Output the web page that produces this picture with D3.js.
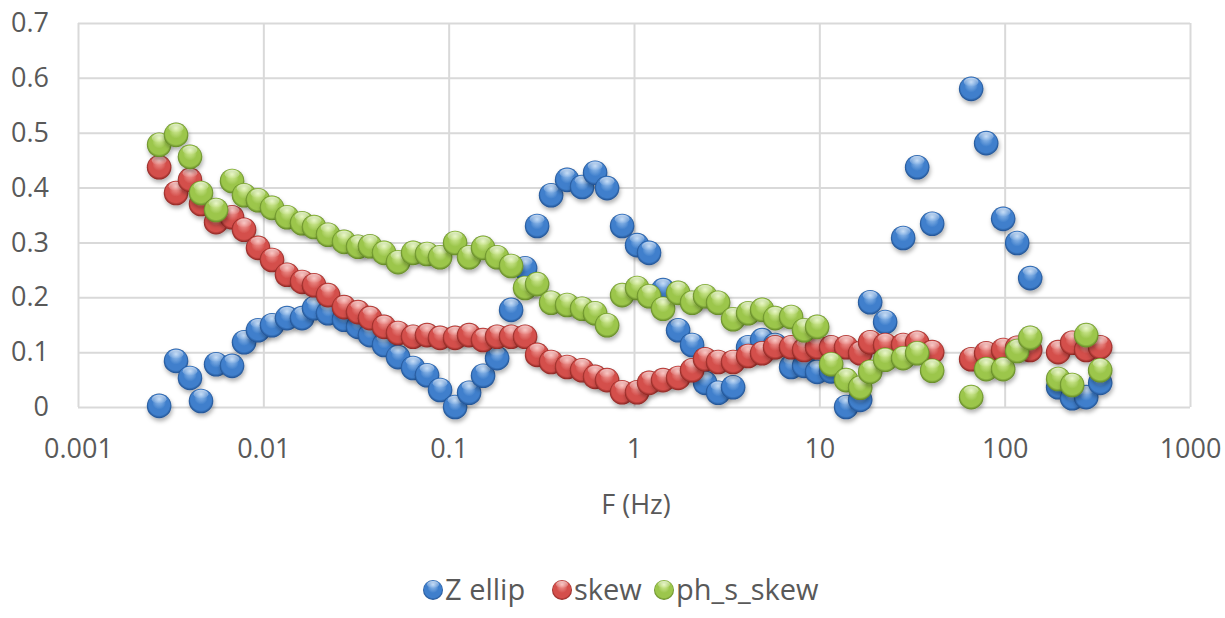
<!DOCTYPE html>
<html>
<head>
<meta charset="utf-8">
<script src="https://cdn.jsdelivr.net/npm/d3@7"></script>
<style>
  html, body { margin: 0; padding: 0; background: #fff; }
  svg { display: block; }
  text { font-family: "Open Sans", "Noto Sans", sans-serif; fill: #595959; }
</style>
</head>
<body>
<svg id="chart" width="1225" height="618"></svg>
<script>
// ---- data ----
const freq = [0.00274,0.00338,0.00402,0.00461,0.00556,0.00678,0.00787,0.00936,0.01114,0.01342,
  0.01618,0.01878,0.02235,0.02726,0.03245,0.03765,0.04481,0.05332,0.06426,0.07644,
  0.08987,0.1083,0.1289,0.1533,0.1825,0.2172,0.2584,0.3000,0.3570,0.4355,
  0.5247,0.6167,0.7158,0.8626,1.039,1.206,1.435,1.730,2.058,2.419,
  2.844,3.425,4.129,4.913,5.773,7.043,8.279,9.730,11.58,13.95,
  16.61,18.80,22.65,28.33,33.71,40.62,65.94,79.47,98.15,116.8,
  137.3,194.4,231.3,275.3,327.6];

const zEllip = [0.002,0.084,0.053,0.011,0.078,0.075,0.118,0.140,0.149,0.162,
  0.162,0.180,0.171,0.159,0.146,0.131,0.113,0.091,0.071,0.058,
  0.031,0.000,0.026,0.057,0.089,0.177,0.253,0.330,0.386,0.414,
  0.401,0.427,0.399,0.330,0.295,0.281,0.213,0.140,0.113,0.044,
  0.026,0.036,0.109,0.122,0.113,0.073,0.075,0.064,0.065,0.000,
  0.013,0.191,0.155,0.308,0.437,0.334,0.580,0.481,0.343,0.299,
  0.235,0.036,0.016,0.018,0.044];

const skew = [0.437,0.390,0.414,0.370,0.337,0.346,0.323,0.290,0.268,0.241,
  0.228,0.222,0.204,0.182,0.173,0.162,0.146,0.135,0.128,0.131,
  0.126,0.126,0.131,0.122,0.128,0.128,0.128,0.095,0.082,0.073,
  0.067,0.055,0.049,0.027,0.027,0.044,0.049,0.053,0.067,0.087,
  0.082,0.082,0.093,0.098,0.109,0.109,0.104,0.109,0.109,0.109,
  0.098,0.118,0.113,0.113,0.117,0.100,0.087,0.098,0.104,0.108,
  0.104,0.100,0.117,0.104,0.109];

const phSSkew = [0.478,0.496,0.456,0.390,0.359,0.412,0.386,0.377,0.363,0.346,
  0.335,0.328,0.314,0.301,0.292,0.293,0.281,0.264,0.281,0.279,
  0.273,0.299,0.273,0.290,0.273,0.257,0.217,0.224,0.190,0.186,
  0.179,0.171,0.149,0.204,0.217,0.202,0.179,0.208,0.190,0.202,
  0.190,0.160,0.171,0.177,0.162,0.164,0.140,0.146,0.078,0.049,
  0.035,0.064,0.086,0.089,0.098,0.066,0.018,0.069,0.069,0.102,
  0.126,0.051,0.040,0.131,0.067];

const seriesNames = ["Z ellip", "skew", "ph_s_skew"];
const seriesValues = [zEllip, skew, phSSkew];
const seriesColors = [
  {base:"#3f7fcc", light:"#a6caf2", dark:"#1f4f8f"},
  {base:"#d44f4b", light:"#f6a8a4", dark:"#8a2420"},
  {base:"#9cc64c", light:"#ddf2a8", dark:"#5f8423"}
];

const xTicks = [0.001, 0.01, 0.1, 1, 10, 100, 1000];
const xTickLabels = ["0.001","0.01","0.1","1","10","100","1000"];
const yTicks = [0,0.1,0.2,0.3,0.4,0.5,0.6,0.7];
const yTickLabels = ["0","0.1","0.2","0.3","0.4","0.5","0.6","0.7"];
const xTitle = "F (Hz)";

// ---- layout ----
const svg = d3.select("#chart");
const L = 78, R = 1190, T = 23, B = 407;
const x = d3.scaleLog().domain([0.001, 1000]).range([L, R]);
const y = d3.scaleLinear().domain([0, 0.7]).range([B, T]);
const rad = 12.3;

// defs
const defs = svg.append("defs");
seriesColors.forEach((c, i) => {
  const g = defs.append("radialGradient").attr("id", "ball" + i)
    .attr("cx", "50%").attr("cy", "50%").attr("r", "50%")
    .attr("fx", "50%").attr("fy", "22%");
  g.append("stop").attr("offset", "0%").attr("stop-color", c.light);
  g.append("stop").attr("offset", "55%").attr("stop-color", c.base);
  g.append("stop").attr("offset", "85%").attr("stop-color", c.base);
  g.append("stop").attr("offset", "100%").attr("stop-color", c.dark);
});
const hl = defs.append("linearGradient").attr("id", "hl")
  .attr("x1", 0).attr("y1", 0).attr("x2", 0).attr("y2", 1);
hl.append("stop").attr("offset", "0%").attr("stop-color", "#fff").attr("stop-opacity", 0.7);
hl.append("stop").attr("offset", "100%").attr("stop-color", "#fff").attr("stop-opacity", 0);
const f = defs.append("filter").attr("id", "shadow")
  .attr("x", "-50%").attr("y", "-50%").attr("width", "200%").attr("height", "200%");
f.append("feDropShadow").attr("dx", 1).attr("dy", 3).attr("stdDeviation", 2)
  .attr("flood-color", "#000").attr("flood-opacity", 0.3);

// gridlines + axes
const gx = svg.append("g").attr("transform", `translate(0,${B})`)
  .call(d3.axisBottom(x).tickValues(xTicks).tickSize(-(B - T)).tickFormat((d, i) => xTickLabels[i]).tickPadding(32));
gx.select(".domain").remove();
gx.selectAll(".tick line").attr("stroke", "#d9d9d9").attr("stroke-width", 2);
gx.selectAll(".tick text").attr("font-size", 27).attr("fill", "#595959")
  .style("font-family", '"Open Sans", sans-serif');

const gy = svg.append("g").attr("transform", `translate(${L},0)`)
  .call(d3.axisLeft(y).tickValues(yTicks).tickSize(-(R - L)).tickFormat((d, i) => yTickLabels[i]).tickPadding(29));
gy.select(".domain").remove();
gy.selectAll(".tick line").attr("stroke", "#d9d9d9").attr("stroke-width", 2);
gy.selectAll(".tick text").attr("font-size", 27).attr("fill", "#595959")
  .style("font-family", '"Open Sans", sans-serif');

// axis title
svg.append("text").attr("x", (L + R) / 2 + 2).attr("y", 514).attr("text-anchor", "middle")
  .attr("font-size", 27).text(xTitle);

// points
seriesValues.forEach((vals, si) => {
  const g = svg.append("g");
  const pts = freq.map((fq, i) => ({f: fq, v: vals[i]})).filter(d => d.v != null);
  const p = g.selectAll("g.pt").data(pts).enter().append("g").attr("class", "pt")
    .attr("transform", d => `translate(${x(d.f)},${y(d.v)})`);
  p.append("circle").attr("r", rad).attr("fill", `url(#ball${si})`).attr("filter", "url(#shadow)");
  p.append("ellipse").attr("cx", 0).attr("cy", -rad * 0.55).attr("rx", rad * 0.6).attr("ry", rad * 0.36)
    .attr("fill", "url(#hl)");
});

// legend
const legendX = [433, 562, 664];
const lg = svg.append("g");
seriesNames.forEach((name, i) => {
  const item = lg.append("g").attr("transform", `translate(${legendX[i]},590)`);
  item.append("circle").attr("r", 10).attr("fill", `url(#ball${i})`);
  item.append("ellipse").attr("cx", 0).attr("cy", -5.5).attr("rx", 6).attr("ry", 3.6).attr("fill", "url(#hl)");
  item.append("text").attr("x", 12).attr("y", 10).attr("font-size", 29).text(name);
});
</script>
</body>
</html>
